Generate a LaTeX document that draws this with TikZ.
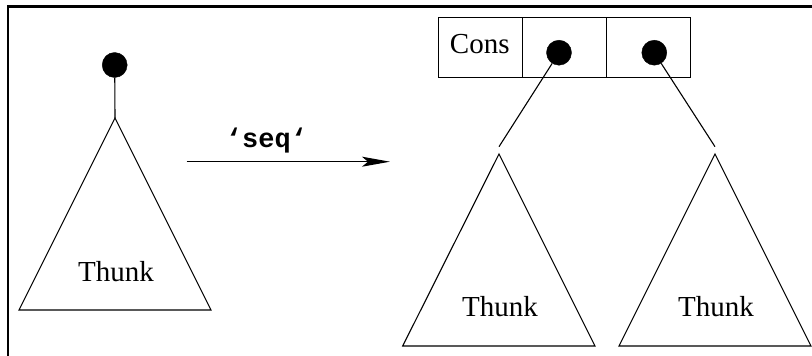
\documentclass[tikz,border=0pt]{standalone}
\usepackage{fontspec}
\setmainfont{Liberation Serif}
\newfontfamily\codefont{Liberation Mono}
\usetikzlibrary{arrows.meta}
\tikzset{
  thin line/.style={line width=1.1pt, black},
  dot/.style={circle, fill=black, draw=black, minimum size=25pt, inner sep=0pt},
  cell/.style={draw, line width=1.1pt, minimum width=84.2pt, minimum height=60pt, inner sep=0pt},
  lbl/.style={font=\fontsize{29}{31}\selectfont, anchor=base, inner sep=0pt},
  codelbl/.style={font=\codefont\bfseries\fontsize{27}{29}\selectfont, anchor=base, inner sep=0pt},
}
\begin{document}
\begin{tikzpicture}[x=1pt,y=-1pt]
\useasboundingbox (0,0) rectangle (812,356);
% frame
\draw[line width=2.8pt] (8,356) -- (8,6.5) -- (812,6.5);
% left tree
\node[dot] (d0) at (114.7,65) {};
\coordinate (a0) at (115,118);
\draw[thin line] (d0) -- (a0);
\draw[thin line] (a0) -- (19,310) -- (211,310) -- cycle;
\node[lbl] (t0) at (116,281) {Thunk};
% arrow
\coordinate (arrs) at (186.7,161.7);
\coordinate (arre) at (390,161.7);
\draw[thin line, -{Stealth[length=28pt,width=10pt,inset=6pt]}] (arrs) -- (arre);
\node[codelbl] (seq) at (266.5,147) {‘seq‘};
% cons cell
\node[cell] (c1) at (480.4,47.3) {};
\node[cell] (c2) at (564.6,47.3) {};
\node[cell] (c3) at (648.8,47.3) {};
\node[lbl] (cons) at (479.8,53.3) {Cons};
\node[dot] (d1) at (559,52.7) {};
\node[dot] (d2) at (654.3,52.7) {};
\coordinate (e1) at (499,146.7);
\coordinate (e2) at (715,146.7);
\draw[thin line] (d1) -- (e1);
\draw[thin line] (d2) -- (e2);
% right trees
\coordinate (a1) at (499,154);
\coordinate (a2) at (715,154);
\draw[thin line] (a1) -- (402.7,346) -- (595,346) -- cycle;
\draw[thin line] (a2) -- (619,346) -- (811,346) -- cycle;
\node[lbl] (t1) at (500,316.7) {Thunk};
\node[lbl] (t2) at (716,316.7) {Thunk};
\end{tikzpicture}
\end{document}
